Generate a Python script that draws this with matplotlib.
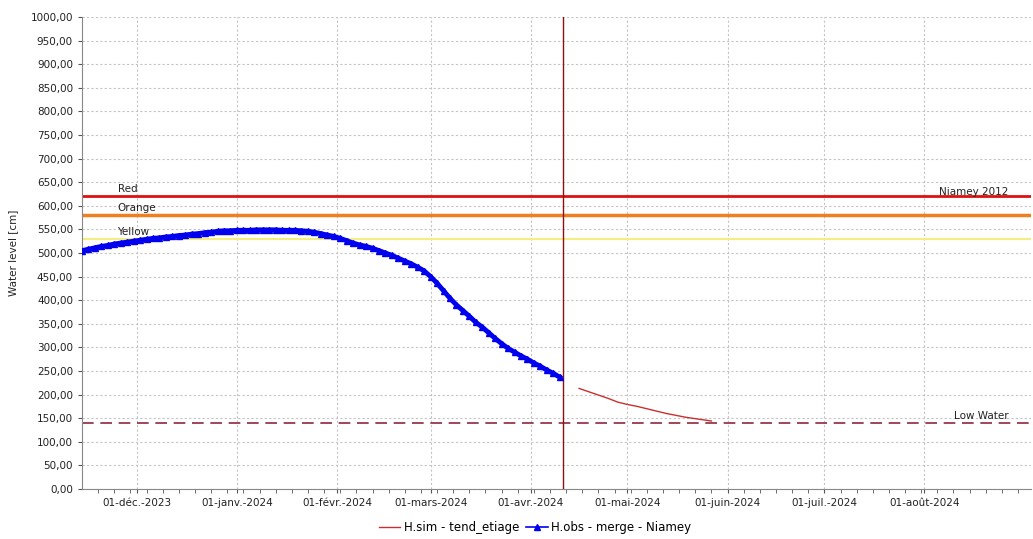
import datetime as dt
import matplotlib
matplotlib.use("Agg")
import matplotlib.pyplot as plt
import matplotlib.dates as mdates
from matplotlib.lines import Line2D
from matplotlib.ticker import FixedLocator, FuncFormatter

# observed water level (cm), every 2 days starting 14 Nov 2023
obs_start = dt.date(2023, 11, 14)
obs_level = [
    505, 508, 511, 514, 516, 519, 521, 523, 525, 527, 529, 531, 532, 534, 535,
    537, 538, 540, 541, 543, 544, 546, 547, 547, 548, 548, 548, 549, 549, 549,
    549, 548, 548, 548, 547, 546, 544, 541, 538, 535, 531, 526, 521, 517, 514,
    510, 505, 500, 495, 489, 483, 477, 470, 462, 450, 436, 420, 404, 390, 378,
    366, 353, 343, 331, 319, 308, 298, 290, 282, 275, 267, 260, 252, 245, 237,
]
obs_dates = [obs_start + dt.timedelta(days=2 * i) for i in range(len(obs_level))]

# simulated trend (cm)
sim_dates = [dt.date(2024, 4, 16), dt.date(2024, 4, 19), dt.date(2024, 4, 22),
             dt.date(2024, 4, 25), dt.date(2024, 4, 28), dt.date(2024, 5, 1),
             dt.date(2024, 5, 4), dt.date(2024, 5, 7), dt.date(2024, 5, 10),
             dt.date(2024, 5, 13), dt.date(2024, 5, 16), dt.date(2024, 5, 19),
             dt.date(2024, 5, 22), dt.date(2024, 5, 25), dt.date(2024, 5, 27)]
sim_level = [213, 206, 199, 192, 184, 179, 175, 170, 165, 160, 156, 152, 149, 146, 144]

# thresholds
thr_red = 620
thr_orange = 580
thr_yellow = 530
thr_low = 140
today = dt.date(2024, 4, 11)

month_ticks = [dt.date(2023, 12, 1), dt.date(2024, 1, 1), dt.date(2024, 2, 1),
               dt.date(2024, 3, 1), dt.date(2024, 4, 1), dt.date(2024, 5, 1),
               dt.date(2024, 6, 1), dt.date(2024, 7, 1), dt.date(2024, 8, 1)]
month_labels = ["01-déc.-2023", "01-janv.-2024", "01-févr.-2024", "01-mars-2024",
                "01-avr.-2024", "01-mai-2024", "01-juin-2024", "01-juil.-2024",
                "01-août-2024"]

fig = plt.figure(figsize=(10.33, 5.39), dpi=100)
ax = fig.add_axes([0.0794, 0.0928, 0.9186, 0.8757])

ax.axhline(thr_red, color="#e01010", lw=2, zorder=2)
ax.axhline(thr_orange, color="#f07f22", lw=2.5, zorder=2)
ax.axhline(thr_yellow, color="#f4ee80", lw=1.5, zorder=2)
ax.axhline(thr_low, color="#8c2a3c", lw=1.2, ls=(0, (7, 4)), zorder=2)
ax.axvline(today, color="#8b1010", lw=1, zorder=3)

ax.plot(sim_dates, sim_level, color="#c83030", lw=1, zorder=4)
ax.plot(obs_dates, obs_level, color="#0000ee", lw=3.5, marker="^", ms=4, zorder=4)

tkw = dict(fontsize=7.5, color="#222222")
ax.text(dt.date(2023, 11, 25), thr_red + 4, "Red", va="bottom", **tkw)
ax.text(dt.date(2023, 11, 25), thr_orange + 4, "Orange", va="bottom", **tkw)
ax.text(dt.date(2023, 11, 25), thr_yellow + 4, "Yellow", va="bottom", **tkw)
ax.text(dt.date(2024, 8, 27), thr_red - 2, "Niamey 2012", va="bottom", ha="right", **tkw)
ax.text(dt.date(2024, 8, 27), thr_low + 4, "Low Water", va="bottom", ha="right", **tkw)

ax.set_xlim(dt.date(2023, 11, 14), dt.date(2024, 9, 3))
ax.set_ylim(0, 1000)
ax.set_yticks(range(0, 1001, 50))
ax.yaxis.set_major_formatter(FuncFormatter(lambda v, p: f"{v:.2f}".replace(".", ",")))
ax.set_xticks([mdates.date2num(d) for d in month_ticks])
ax.set_xticklabels(month_labels)
minor = [mdates.date2num(dt.date(2023, 11, 19)) + 5 * i for i in range(58)]
ax.xaxis.set_minor_locator(FixedLocator(minor))

ax.tick_params(axis="both", which="major", labelsize=7.5, colors="#555555",
               labelcolor="#222222", length=3)
ax.tick_params(axis="x", which="minor", length=3, colors="#555555")
ax.grid(True, which="major", color="#c4c4c4", ls=(0, (2, 2)), lw=0.8)
ax.set_axisbelow(True)
for s in ["top", "right"]:
    ax.spines[s].set_visible(False)
for s in ["left", "bottom"]:
    ax.spines[s].set_color("#888888")

ax.set_ylabel("Water level [cm]", fontsize=7.5, color="#222222")
ax.yaxis.set_label_coords(-0.067, 0.5)

handles = [Line2D([], [], color="#c83030", lw=1),
           Line2D([], [], color="#0000ee", lw=1.2, marker="^", ms=4)]
fig.legend(handles, ["H.sim - tend_etiage", "H.obs - merge - Niamey"],
           loc="center", bbox_to_anchor=(0.518, 0.022), ncol=2, frameon=False,
           fontsize=8.5, handlelength=1.8, columnspacing=0.6, handletextpad=0.3)

fig.savefig("out.png", dpi=100)
